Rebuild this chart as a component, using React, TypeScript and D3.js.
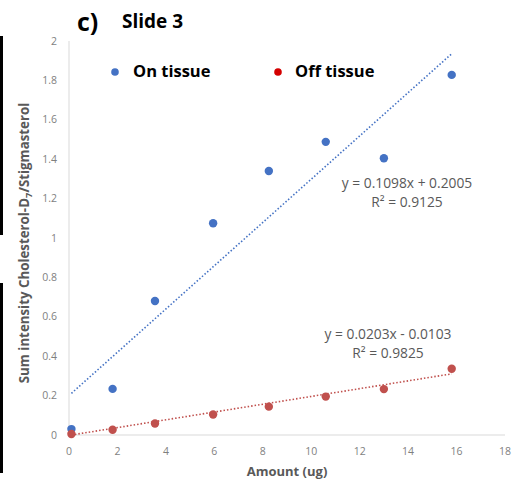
import * as d3 from 'd3';

// Data
const amounts = [0.1, 1.8, 3.55, 5.95, 8.25, 10.6, 13.0, 15.8];
const onTissue = [0.03, 0.234, 0.68, 1.075, 1.34, 1.488, 1.405, 1.828];
const offTissue = [0.005, 0.027, 0.058, 0.104, 0.144, 0.195, 0.233, 0.336];
const onFit = { slope: 0.1098, intercept: 0.2005, label: 'y = 0.1098x + 0.2005', r2: 'R² = 0.9125' };
const offFit = { slope: 0.0203, intercept: -0.0103, label: 'y = 0.0203x - 0.0103', r2: 'R² = 0.9825' };
const xTicks = [0, 2, 4, 6, 8, 10, 12, 14, 16, 18];
const yTicks = [0, 0.2, 0.4, 0.6, 0.8, 1, 1.2, 1.4, 1.6, 1.8, 2];

const W = 522;
const H = 484;
const FONT = "'Open Sans', sans-serif";
const BLUE = '#4472c4';
const RED = '#c0504d';
const GRAY = '#595959';

export default function App() {
    const x = d3.scaleLinear().domain([0, 18]).range([69, 505]);
    const y = d3.scaleLinear().domain([0, 2]).range([435, 41]);

    const xMin = d3.min(amounts) as number;
    const xMax = d3.max(amounts) as number;
    const trend = (fit: { slope: number; intercept: number }) =>
        d3.line<number>()
            .x(d => x(d))
            .y(d => y(Math.max(0, fit.slope * d + fit.intercept)))([xMin, xMax]) || '';

    return (
        <svg width={W} height={H} style={{ position: 'absolute', left: 0, top: 0, background: '#fff' }} fontFamily={FONT}>
            {/* black bars at left edge */}
            <rect x={0} y={36} width={3} height={199} fill="#000" />
            <rect x={0} y={283} width={3} height={190} fill="#000" />

            {/* title */}
            <text x={77} y={31} fontSize={25} fontWeight="bold" fill="#000">c)</text>
            <text x={122} y={28} fontSize={19} fontWeight="bold" fill="#000">Slide 3</text>

            {/* axes */}
            <line x1={x(0)} x2={x(0)} y1={y(2)} y2={y(0)} stroke="#d9d9d9" />
            <line x1={x(0)} x2={x(18)} y1={y(0)} y2={y(0)} stroke="#d9d9d9" />

            {yTicks.map(t => (
                <text key={'y' + t} x={57} y={y(t) + 3.5} textAnchor="end" fontSize={10.5} fill="#7f7f7f">
                    {String(+t.toFixed(1))}
                </text>
            ))}
            {xTicks.map(t => (
                <text key={'x' + t} x={x(t)} y={455} textAnchor="middle" fontSize={10.5} fill="#7f7f7f">
                    {t}
                </text>
            ))}

            {/* axis titles */}
            <text x={287} y={476} textAnchor="middle" fontSize={13} fontWeight="bold" fill={GRAY}>Amount (ug)</text>
            <text transform="translate(29,243) rotate(-90)" textAnchor="middle" fontSize={13.3} fontWeight="bold" fill={GRAY}>
                Sum intensity Cholesterol-D<tspan fontSize={9.5} dy={3}>7</tspan><tspan dy={-3}>/Stigmasterol</tspan>
            </text>

            {/* trendlines */}
            <path d={trend(onFit)} fill="none" stroke={BLUE} strokeWidth={1.6} strokeDasharray="1.5,2" />
            <path d={trend(offFit)} fill="none" stroke={RED} strokeWidth={1.6} strokeDasharray="1.5,2" />

            {/* points */}
            {amounts.map((a, i) => (
                <circle key={'on' + i} cx={x(a)} cy={y(onTissue[i])} r={4.2} fill={BLUE} />
            ))}
            {amounts.map((a, i) => (
                <circle key={'off' + i} cx={x(a)} cy={y(offTissue[i])} r={4.2} fill={RED} />
            ))}

            {/* fit labels */}
            <text x={407} y={188} textAnchor="middle" fontSize={13.8} fill={GRAY}>{onFit.label}</text>
            <text x={407} y={207} textAnchor="middle" fontSize={13.8} fill={GRAY}>{onFit.r2}</text>
            <text x={388} y={339} textAnchor="middle" fontSize={13.8} fill={GRAY}>{offFit.label}</text>
            <text x={388} y={358} textAnchor="middle" fontSize={13.8} fill={GRAY}>{offFit.r2}</text>

            {/* legend */}
            <circle cx={115} cy={72} r={3.8} fill={BLUE} />
            <text x={133} y={77} fontSize={16.5} fontWeight="bold" fill="#000">On tissue</text>
            <circle cx={278} cy={72} r={3.8} fill="#d40000" />
            <text x={295} y={77} fontSize={16.5} fontWeight="bold" fill="#000">Off tissue</text>
        </svg>
    );
}
